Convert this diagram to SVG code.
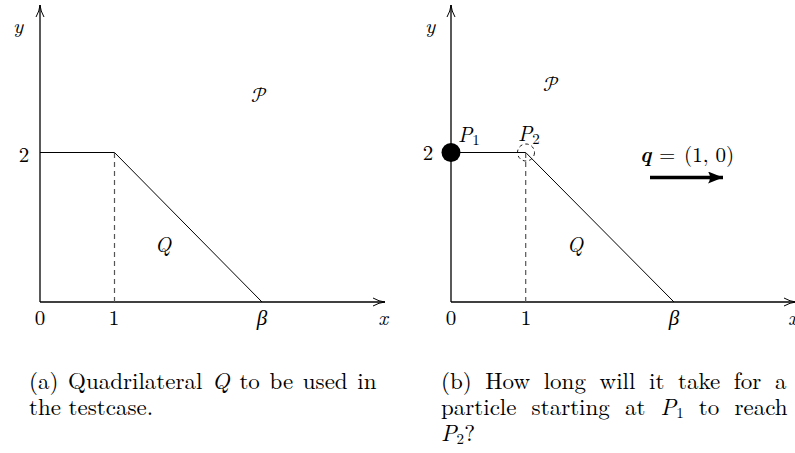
<svg xmlns="http://www.w3.org/2000/svg" width="795" height="453" viewBox="0 0 795 453">
<defs>
<marker id="open" markerWidth="14" markerHeight="10" refX="13" refY="5" orient="auto" markerUnits="userSpaceOnUse">
<path d="M1,1 Q7,4.5 13,5 Q7,5.5 1,9" fill="none" stroke="#000" stroke-width="1"/>
</marker>
<marker id="solid" markerWidth="16" markerHeight="12" refX="15" refY="6" orient="auto" markerUnits="userSpaceOnUse">
<path d="M0,0 L15,6 L0,12 Q4,6 0,0 Z" fill="#000"/>
</marker>
</defs>
<style>
text{font-family:"Latin Modern Roman","Liberation Serif","DejaVu Serif",serif;font-size:21px;fill:#000}
.m{font-style:italic}
.c{text-anchor:middle}
.cap{font-size:23px}
.sub{font-size:15px}
.cal{font-family:"Latin Modern Math","DejaVu Serif",serif;font-size:21px;font-style:normal}
.ax{stroke:#000;stroke-width:1.3;fill:none}
.ln{stroke:#000;stroke-width:1;fill:none}
.ds{stroke:#555;stroke-width:1.2;stroke-dasharray:5,4;fill:none}
</style>
<rect width="795" height="453" fill="#fff"/>
<g id="connectors">
<line class="ax" x1="40" y1="302" x2="40" y2="5" marker-end="url(#open)"/>
<line class="ax" x1="40" y1="302" x2="385" y2="302" marker-end="url(#open)"/>
<polyline class="ln" points="40,152.5 114.5,152.5 262,302"/>
<line class="ds" x1="114.5" y1="153" x2="114.5" y2="302"/>
<line class="ax" x1="451" y1="302" x2="451" y2="5" marker-end="url(#open)"/>
<line class="ax" x1="451" y1="302" x2="796" y2="302" marker-end="url(#open)"/>
<polyline class="ln" points="451,152.5 525.7,152.5 674,302"/>
<line class="ds" x1="525.7" y1="153" x2="525.7" y2="302"/>
<line x1="650" y1="177.5" x2="723" y2="177.5" stroke="#000" stroke-width="3.5" marker-end="url(#solid)"/>
</g>
<g id="panel-a-labels">
<text class="m c" x="18" y="33">y</text>
<text class="c" x="24" y="162">2</text>
<text class="c" x="40" y="325">0</text>
<text class="c" x="114" y="325">1</text>
<text class="m c" x="262" y="325">β</text>
<text class="m c" x="383" y="325">x</text>
<text class="cal c" x="259" y="102">𝒫</text>
<text class="m c" x="163" y="252">Q</text>
</g>
<g id="panel-b-labels">
<text class="m c" x="430" y="33">y</text>
<text class="c" x="428" y="160">2</text>
<text class="c" x="451" y="325">0</text>
<text class="c" x="526" y="325">1</text>
<text class="m c" x="674" y="325">β</text>
<text class="m" x="788" y="325">x</text>
<text class="cal c" x="551" y="91">𝒫</text>
<text class="m c" x="575" y="252">Q</text>
</g>
<g id="P1">
<circle cx="451" cy="152.5" r="9.5" fill="#000"/>
<text x="458" y="142"><tspan class="m">P</tspan><tspan class="sub" dy="3">1</tspan></text>
</g>
<g id="P2">
<circle cx="526" cy="152.5" r="8.5" fill="none" stroke="#000" stroke-width="0.9" stroke-dasharray="3.5,3"/>
<text x="518" y="141"><tspan class="m">P</tspan><tspan class="sub" dy="3">2</tspan></text>
</g>
<g id="q-label">
<text y="162"><tspan x="640" font-weight="bold" font-style="italic">q</tspan><tspan x="659">=</tspan><tspan x="684">(1, 0)</tspan></text>
</g>
<g id="captions">
<text class="cap" x="29" y="389" word-spacing="2">(a) Quadrilateral <tspan class="m">Q</tspan> to be used in</text>
<text class="cap" x="29" y="415">the testcase.</text>
<text class="cap" x="441" y="389" word-spacing="6">(b) How long will it take for a</text>
<text class="cap" x="441" y="415" word-spacing="7.5">particle starting at <tspan class="m">P</tspan><tspan class="sub" dy="3">1</tspan><tspan dy="-3"> to reach</tspan></text>
<text class="cap" x="441" y="441"><tspan class="m">P</tspan><tspan class="sub" dy="3">2</tspan><tspan dy="-3">?</tspan></text>
</g>
</svg>
